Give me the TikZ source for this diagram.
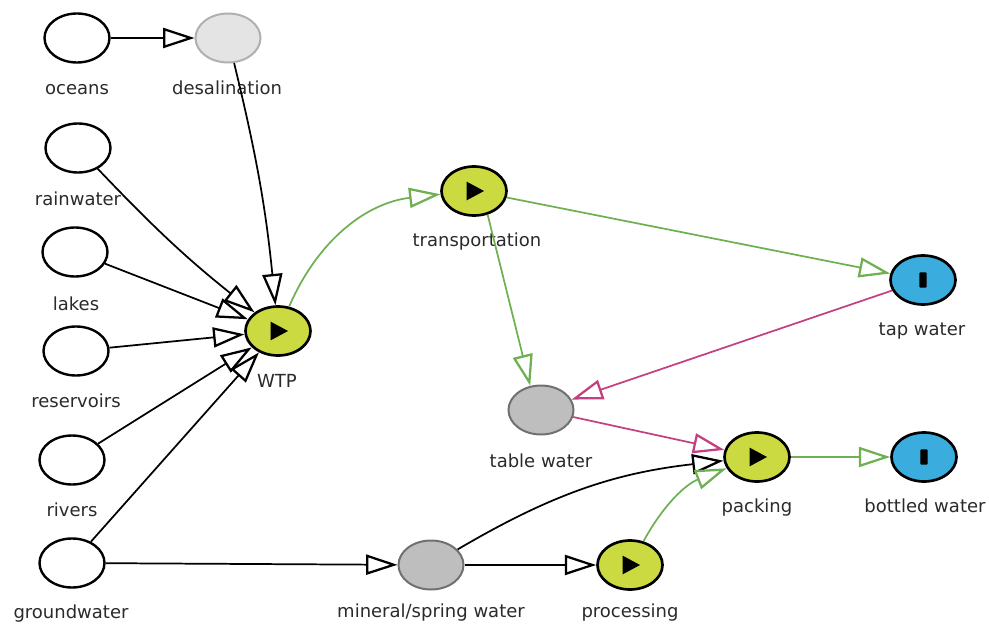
\documentclass[tikz,border=0pt]{standalone}
\usepackage{fontspec}
\setmainfont{DejaVu Sans}
\usetikzlibrary{arrows.meta,shapes.geometric}
\definecolor{edgegreen}{RGB}{112,176,84}
\definecolor{edgepink}{RGB}{196,64,128}
\definecolor{procfill}{RGB}{204,218,66}
\definecolor{sinkfill}{RGB}{58,172,222}
\definecolor{stockfill}{RGB}{190,190,190}
\definecolor{stockline}{RGB}{112,112,112}
\definecolor{lightfill}{RGB}{228,228,228}
\definecolor{lightline}{RGB}{176,176,176}
\definecolor{labeltext}{RGB}{42,42,42}

\begin{document}
\begin{tikzpicture}[x=0.75pt,y=-0.75pt,
  blob/.style={ellipse, minimum width=48.75pt, minimum height=36.75pt, inner sep=0pt, line width=1.8pt},
  source/.style={blob, draw=black, fill=white},
  stock/.style={blob, draw=stockline, fill=stockfill, line width=1.5pt},
  lightstock/.style={blob, draw=lightline, fill=lightfill, line width=1.5pt},
  proc/.style={blob, draw=black, fill=procfill, line width=2pt,
    path picture={\fill[black] ([xshift=-5.5pt,yshift=7pt]path picture bounding box.center)
      -- ++(13pt,-7pt) -- ++(-13pt,-7pt) -- cycle;}},
  sink/.style={blob, draw=black, fill=sinkfill, line width=2pt,
    path picture={\fill[black, rounded corners=0.8pt] ([xshift=-2.7pt,yshift=-5.8pt]path picture bounding box.center)
      rectangle ++(5.4pt,11.6pt);}},
  lbl/.style={anchor=base, font=\fontsize{13.5}{16}\selectfont, text=labeltext, inner sep=0pt},
  flow/.style={line width=1.3pt, -{Triangle[open, length=23.5pt, width=15pt, line width=1.7pt, fill=white]}},
  blackflow/.style={flow, draw=black},
  greenflow/.style={flow, draw=edgegreen},
  pinkflow/.style={flow, draw=edgepink}
]
\useasboundingbox (0,0) rectangle (989,624);

% sources
\node[source] (oceans) at (77,38) {};
\node[source] (rain) at (78,148) {};
\node[source] (lakes) at (75,252) {};
\node[source] (reservoirs) at (76,351) {};
\node[source] (rivers) at (72,460) {};
\node[source] (ground) at (72,563) {};

% stocks and processes
\node[lightstock] (desal) at (228,38) {};
\node[proc] (wtp) at (278,331) {};
\node[proc] (trans) at (474,191) {};
\node[sink] (tap) at (923,280) {};
\node[stock] (table) at (541,410) {};
\node[proc] (packing) at (757,457) {};
\node[sink] (bottled) at (924,457) {};
\node[stock] (mineral) at (431,565) {};
\node[proc] (processing) at (630,565) {};

% labels
\node[lbl] (oceansL) at (77,95) {oceans};
\node[lbl] (desalL) at (227,95) {desalination};
\node[lbl] (rainL) at (78,205) {rainwater};
\node[lbl] (lakesL) at (76,310) {lakes};
\node[lbl] (reservoirsL) at (76,407) {reservoirs};
\node[lbl] (riversL) at (72,516) {rivers};
\node[lbl] (groundL) at (71,618) {groundwater};
\node[lbl] (wtpL) at (277,387) {WTP};
\node[lbl] (transL) at (477,247) {transportation};
\node[lbl] (tableL) at (541,467) {table water};
\node[lbl] (mineralL) at (431,617) {mineral/spring water};
\node[lbl] (processingL) at (630,617) {processing};
\node[lbl] (tapL) at (922,335) {tap water};
\node[lbl] (packingL) at (757,512) {packing};
\node[lbl] (bottledL) at (925,512) {bottled water};

% flows into the treatment plant
\draw[blackflow] (oceans) -- (desal);
\draw[blackflow] (desal) to[bend left=4] (wtp);
\draw[blackflow] (rain) to[bend right=4] (wtp);
\draw[blackflow] (lakes) -- (wtp);
\draw[blackflow] (reservoirs) -- (wtp);
\draw[blackflow] (rivers) -- (wtp);
\draw[blackflow] (ground) -- (wtp);

% distribution
\draw[greenflow] (wtp) to[bend left=30] (trans);
\draw[greenflow] (trans) -- (tap);
\draw[greenflow] (trans.-60) -- (table.114);
\draw[pinkflow] (tap) -- (table);
\draw[pinkflow] (table) -- (packing);

% bottled supply chain
\draw[blackflow] (ground) -- (mineral);
\draw[blackflow] (mineral) -- (processing);
\draw[blackflow] (mineral) to[bend left=12] (packing);
\draw[greenflow] (processing) to[bend left=20] (packing);
\draw[greenflow] (packing) -- (bottled);
\end{tikzpicture}
\end{document}
